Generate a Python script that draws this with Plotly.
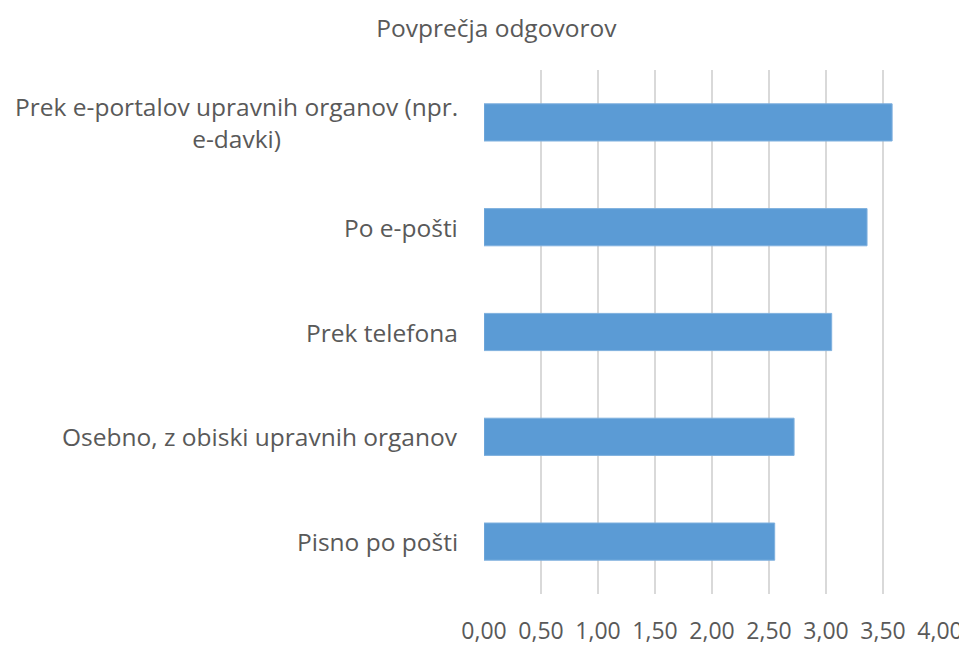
import plotly.graph_objects as go

categories = [
    'Prek e-portalov upravnih organov (npr.<br>e-davki)',
    'Po e-pošti',
    'Prek telefona',
    'Osebno, z obiski upravnih organov',
    'Pisno po pošti',
]
values = [3.58, 3.36, 3.05, 2.72, 2.55]
tick_vals = [0, 0.5, 1, 1.5, 2, 2.5, 3, 3.5, 4]
tick_text = ['0,00', '0,50', '1,00', '1,50', '2,00', '2,50', '3,00', '3,50', '4,00']

grey = '#595959'
font = 'Open Sans'

fig = go.Figure(go.Bar(
    x=values, y=categories, orientation='h',
    marker=dict(color='#5b9bd5', line=dict(color='#7fb0de', width=1)),
    hoverinfo='x+y'))

# category labels as annotations so wrapped lines are centred
for cat in categories:
    fig.add_annotation(
        x=0, y=cat, xref='x', yref='y', text=cat, showarrow=False,
        xanchor='right', yanchor='middle', align='center', xshift=-24,
        font=dict(family=font, size=24.5, color=grey))

# page has an 8px body margin, so margins are shifted by that amount
fig.update_layout(
    width=967, height=650,
    margin=dict(l=476, r=32, t=62, b=53),
    paper_bgcolor='white', plot_bgcolor='white',
    bargap=0.645, showlegend=False,
    title=dict(text='Povprečja odgovorov', x=0.505, xanchor='center', y=0.969, yanchor='middle',
               font=dict(family=font, size=24.5, color=grey)),
    xaxis=dict(range=[0, 4], tickvals=tick_vals, ticktext=tick_text,
               showgrid=True, gridcolor='#d9d9d9', gridwidth=1.5, zeroline=False,
               showline=False, ticks='', ticklabelstandoff=21,
               tickfont=dict(family=font, size=23, color=grey)),
    yaxis=dict(autorange='reversed', showticklabels=False, showgrid=False,
               zeroline=False, showline=False, ticks=''),
)

fig.write_html('out.html')
